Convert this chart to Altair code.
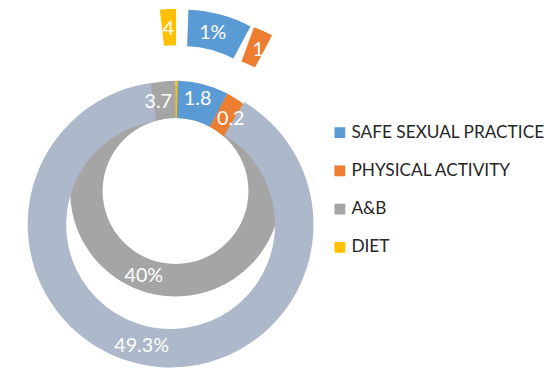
import math
import altair as alt
import pandas as pd

# ---------------- data ----------------
categories = ["SAFE SEXUAL PRACTICE", "PHYSICAL ACTIVITY", "A&B", "DIET"]
category_colors = ["#5B9BD5", "#ED7D31", "#A5A5A5", "#FFC000"]
remainder_name = "REMAINDER"
remainder_color = "#ADB9CA"

# inner ring – the wide A&B band
band_cats = ["A&B"]
band_start = [0]
band_end = [360]
band_labels = ["40%"]
band_label_angles = [200.5]

# inner ring – segments at the top
top_cats = ["A&B", "DIET", "SAFE SEXUAL PRACTICE", "PHYSICAL ACTIVITY"]
top_start = [345, 0, 1.2, 28]
top_end = [360, 1.2, 28, 42]
top_labels = ["3.7", "", "1.8", "0.2"]
top_label_angles = [349, 0, 13.5, 37.5]

# outer ring (big remainder + three exploded slices)
outer_cats = [remainder_name, "DIET", "SAFE SEXUAL PRACTICE", "PHYSICAL ACTIVITY"]
outer_start = [31, 353.5, 2, 20]
outer_end = [352, 360, 28, 28]
outer_labels = ["49.3%", "4", "1%", "1"]
outer_label_angles = [193.4, 356.5, 13.8, 25.5]

band = pd.DataFrame({"cat": band_cats, "start": band_start, "end": band_end,
                     "label": band_labels, "lab_ang": band_label_angles})
top = pd.DataFrame({"cat": top_cats, "start": top_start, "end": top_end,
                    "label": top_labels, "lab_ang": top_label_angles})
outer = pd.DataFrame({"cat": outer_cats, "start": outer_start, "end": outer_end,
                      "label": outer_labels, "lab_ang": outer_label_angles,
                      "idx": list(range(len(outer_cats)))})

theta_scale = alt.Scale(domain=[0, 360], range=[0, 2 * math.pi])
color_scale = alt.Scale(domain=categories + [remainder_name],
                        range=category_colors + [remainder_color])
legend = alt.Legend(
    title=None, values=categories, orient="none", legendX=328, legendY=115,
    symbolType="square", symbolSize=121, symbolStrokeWidth=0,
    labelFont="Lato", labelFontSize=17.5, labelColor="#262626", labelLimit=0,
    rowPadding=19.8, labelOffset=3, padding=0,
)
FONT = "Lato"


def arcs(data, cx, cy, r_out, r_in):
    return alt.Chart(data).mark_arc(strokeWidth=0).encode(
        x=alt.value(cx), y=alt.value(cy),
        theta=alt.Theta("start:Q", scale=theta_scale, stack=False),
        theta2="end:Q",
        radius=alt.value(r_out), radius2=alt.value(r_in),
        color=alt.Color("cat:N", scale=color_scale, legend=legend),
    )


def labels(data, cx, cy, r, size=20):
    return alt.Chart(data).mark_text(font=FONT, fontSize=size, color="white").encode(
        x=alt.value(cx), y=alt.value(cy),
        theta=alt.Theta("lab_ang:Q", scale=theta_scale, stack=False),
        radius=alt.value(r),
        text="label:N",
    )


C0 = (170, 183)      # inner ring centre
C1 = (165, 217)      # big outer slice centre (exploded downwards)
CY = (170.5, 143)    # exploded DIET slice
CB = (178, 144)      # exploded SAFE SEXUAL PRACTICE slice
CO = (200, 153)      # exploded PHYSICAL ACTIVITY slice

layers = [
    arcs(band, *C0, 107, 74),
    arcs(top, *C0, 112, 74),
    arcs(outer, *C1, 145, 106).transform_filter("datum.idx == 0"),
    arcs(outer, *CY, 145, 108).transform_filter("datum.idx == 1"),
    arcs(outer, *CB, 145, 108).transform_filter("datum.idx == 2"),
    arcs(outer, *CO, 145, 108).transform_filter("datum.idx == 3"),
    labels(band, *C0, 92),
    labels(top, *C0, 92).transform_filter("datum.label != '' && datum.label != '1.8'"),
    labels(top, *C0, 96).transform_filter("datum.label == '1.8'"),
    labels(outer, *C1, 127).transform_filter("datum.idx == 0"),
    labels(outer, *CY, 125).transform_filter("datum.idx == 1"),
    labels(outer, *CB, 125).transform_filter("datum.idx == 2"),
    labels(outer, *CO, 125).transform_filter("datum.idx == 3"),
]

chart = alt.layer(*layers).properties(
    width=549, height=369, autosize="none", padding=0,
).configure_view(strokeWidth=0)

chart.save("out.html", embed_options={"renderer": "svg", "actions": False})
